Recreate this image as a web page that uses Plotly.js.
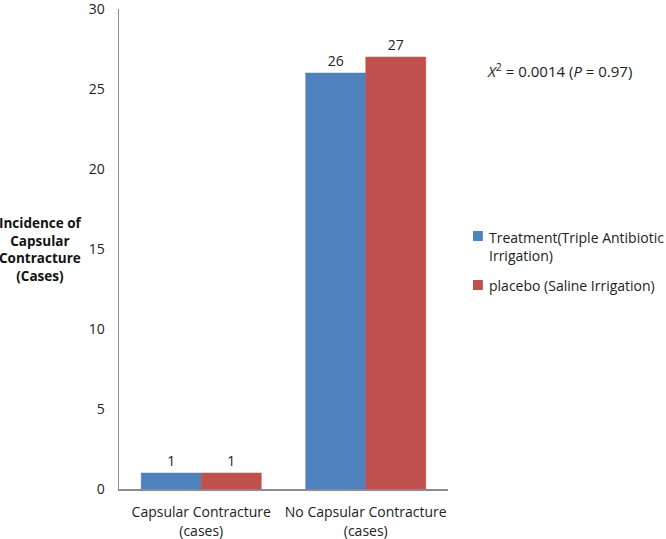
<!DOCTYPE html>
<html>
<head>
<meta charset="utf-8">
<script src="https://cdn.plot.ly/plotly-3.0.1.min.js"></script>
<style>html,body{margin:0;padding:0;background:#fff;}#chart{width:666px;height:539px;}</style>
</head>
<body>
<div id="chart"></div>
<script>
var categories = ["Capsular Contracture<br>(cases)", "No Capsular Contracture<br>(cases)"];
var treatmentValues = [1, 26];
var placeboValues = [1, 27];
var seriesNames = ["Treatment(Triple Antibiotic<br>Irrigation)", "placebo (Saline Irrigation)"];
var seriesColors = ["#4F81BD", "#C0504D"];
var yTicks = [0, 5, 10, 15, 20, 25, 30];

var FONT = "Open Sans, Noto Sans, sans-serif";
var traces = [
  {type: "bar", name: seriesNames[0], x: categories, y: treatmentValues,
   text: treatmentValues.map(String), textposition: "outside", cliponaxis: false,
   textfont: {size: 14, color: "#222"},
   marker: {color: seriesColors[0], line: {color: "#4A7CB8", width: 0.5}}},
  {type: "bar", name: seriesNames[1], x: categories, y: placeboValues,
   text: placeboValues.map(String), textposition: "outside", cliponaxis: false,
   textfont: {size: 14, color: "#222"},
   marker: {color: seriesColors[1], line: {color: "#BC4B48", width: 0.5}}}
];

var legendShapes = [];
var legendNotes = [];
var legendY = [[0.5375, 0.5167, 0.506], [0.4354, 0.4146, 0.425]];
for (var i = 0; i < seriesNames.length; i++) {
  legendShapes.push({type: "rect", xref: "paper", yref: "paper",
    x0: 1.076, x1: 1.106, y0: legendY[i][1], y1: legendY[i][0],
    fillcolor: seriesColors[i], line: {width: 0}});
  legendNotes.push({xref: "paper", yref: "paper", x: 1.1185, y: legendY[i][2],
    xanchor: "left", yanchor: "middle", align: "left", showarrow: false,
    text: seriesNames[i], font: {family: FONT, size: 14, color: "#222"}});
}

var layout = {
  width: 666, height: 539,
  margin: {l: 119, r: 218, t: 9, b: 50, autoexpand: false},
  paper_bgcolor: "#fff", plot_bgcolor: "#fff",
  font: {family: FONT, size: 14, color: "#222"},
  barmode: "group", bargap: 0.27, bargroupgap: 0,
  showlegend: false,
  xaxis: {showline: true, linecolor: "#8C8C8C", linewidth: 1.5, ticks: "",
    ticklabelstandoff: 10, automargin: false,
    tickfont: {family: FONT, size: 14, color: "#222"}, showgrid: false, zeroline: false},
  yaxis: {range: [0, 30], tickvals: yTicks, ticktext: yTicks.map(String),
    showline: true, linecolor: "#8C8C8C", linewidth: 1.5, ticks: "",
    ticklabelstandoff: 10, ticklabeloverflow: "allow", automargin: false,
    showgrid: false, zeroline: false,
    tickfont: {family: FONT, size: 14, color: "#222"}},
  shapes: legendShapes,
  annotations: [
    {xref: "paper", yref: "paper", x: -0.24, y: 0.498, xanchor: "center", yanchor: "middle",
     showarrow: false, align: "center",
     text: "<b>Incidence of<br>Capsular<br>Contracture<br>(Cases)</b>",
     font: {family: FONT, size: 13.5, color: "#111"}},
    {xref: "paper", yref: "paper", x: 1.34, y: 0.871, xanchor: "center", yanchor: "middle",
     showarrow: false,
     text: "<i>X</i><sup>2</sup> = 0.0014 (<i>P</i> = 0.97)",
     font: {family: FONT, size: 15, color: "#222"}}
  ].concat(legendNotes)
};
Plotly.newPlot("chart", traces, layout, {displayModeBar: false, staticPlot: true});
</script>
</body>
</html>
